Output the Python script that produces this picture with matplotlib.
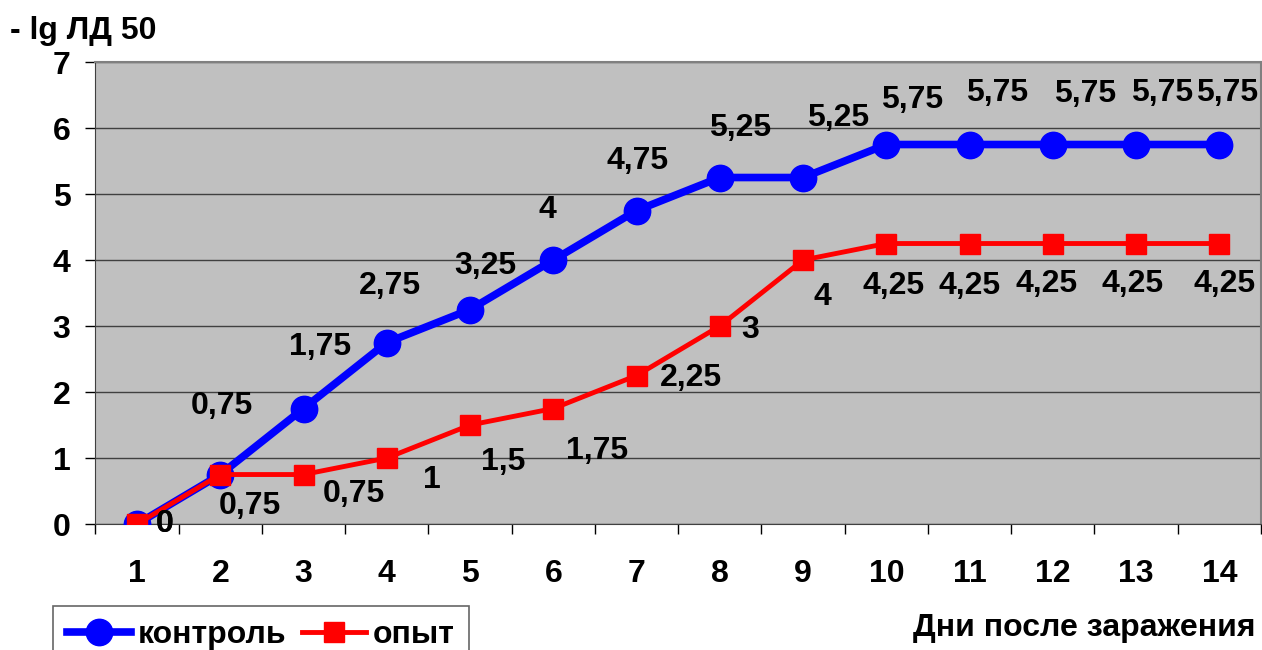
import numpy as np
import matplotlib.pyplot as plt
from matplotlib.ticker import FixedLocator

plt.rcParams.update(
    {
        "font.family": ["Liberation Sans", "DejaVu Sans"],
        "font.weight": "bold",
        "font.size": 23,
    }
)

# data
days = [1, 2, 3, 4, 5, 6, 7, 8, 9, 10, 11, 12, 13, 14]
control = [0, 0.75, 1.75, 2.75, 3.25, 4, 4.75, 5.25, 5.25, 5.75, 5.75, 5.75, 5.75, 5.75]
experiment = [0, 0.75, 0.75, 1, 1.5, 1.75, 2.25, 3, 4, 4.25, 4.25, 4.25, 4.25, 4.25]
control_labels = ["0", "0,75", "1,75", "2,75", "3,25", "4", "4,75",
                  "5,25", "5,25", "5,75", "5,75", "5,75", "5,75", "5,75"]
experiment_labels = ["0", "0,75", "0,75", "1", "1,5", "1,75", "2,25",
                     "3", "4", "4,25", "4,25", "4,25", "4,25", "4,25"]

# label offsets in pixels (dx, dy) relative to the point, as placed in the original
control_off = [(28, 0), (2, 69), (17, 62), (3, 57), (15, 44), (-6, 50), (1, 50),
               (20, 50), (35, 60), (26, 45), (27, 52), (32, 51), (26, 52), (8, 52)]
experiment_off = [(28, 0), (30, -31), (50, -19), (45, -22), (33, -37), (44, -42), (54, -2),
                  (30, -4), (19, -37), (7, -42), (0, -42), (-6, -40), (-4, -40), (5, -40)]

fig = plt.figure(figsize=(12.62, 6.5), dpi=100)
ax = fig.add_axes([0.0756, 0.1938, 0.9236, 0.7108])
ax.set_facecolor("#C0C0C0")

ax.plot(days, control, color="#0000FF", lw=5.5, marker="o", ms=19,
        label="контроль", zorder=3)
ax.plot(days, experiment, color="#FF0000", lw=3.5, marker="s", ms=14,
        label="опыт", zorder=4)

for x, y, t, (dx, dy) in zip(days, control, control_labels, control_off):
    ax.annotate(t, (x, y), xytext=(dx, dy), textcoords="offset pixels",
                ha="center", va="center", fontsize=23, fontweight="bold", zorder=5)
for x, y, t, (dx, dy) in zip(days, experiment, experiment_labels, experiment_off):
    ax.annotate(t, (x, y), xytext=(dx, dy), textcoords="offset pixels",
                ha="center", va="center", fontsize=23, fontweight="bold", zorder=5)

ax.set_xlim(0.5, 14.5)
ax.set_ylim(0, 7)
ax.set_yticks(range(0, 8))
ax.set_xticks(days)
ax.xaxis.set_minor_locator(FixedLocator(np.arange(0.5, 15, 1)))
ax.tick_params(axis="x", which="major", length=0, pad=25)
ax.tick_params(axis="x", which="minor", length=7, width=1, direction="out")
ax.tick_params(axis="y", length=7, width=1, pad=11)
ax.yaxis.grid(True, color="#404040", lw=1)
ax.set_axisbelow(True)

for s in ["top", "right"]:
    ax.spines[s].set_color("#808080")
    ax.spines[s].set_linewidth(1.5)
ax.spines["left"].set_color("#404040")
ax.spines["bottom"].set_color("#404040")

fig.text(0.008, 0.953, "- lg ЛД 50", ha="left", va="center", fontsize=23, fontweight="bold")
fig.text(0.995, 0.034, "Дни после заражения", ha="right", va="center",
         fontsize=23, fontweight="bold")

leg = fig.legend(loc="upper left", bbox_to_anchor=(0.042, 0.068), ncol=2,
                 frameon=True, fancybox=False, edgecolor="#404040", fontsize=23,
                 handlelength=2.0, handletextpad=0.2, columnspacing=0.5,
                 borderpad=0.45, borderaxespad=0)
leg.get_frame().set_linewidth(1.2)

fig.savefig("out.png", dpi=100)
